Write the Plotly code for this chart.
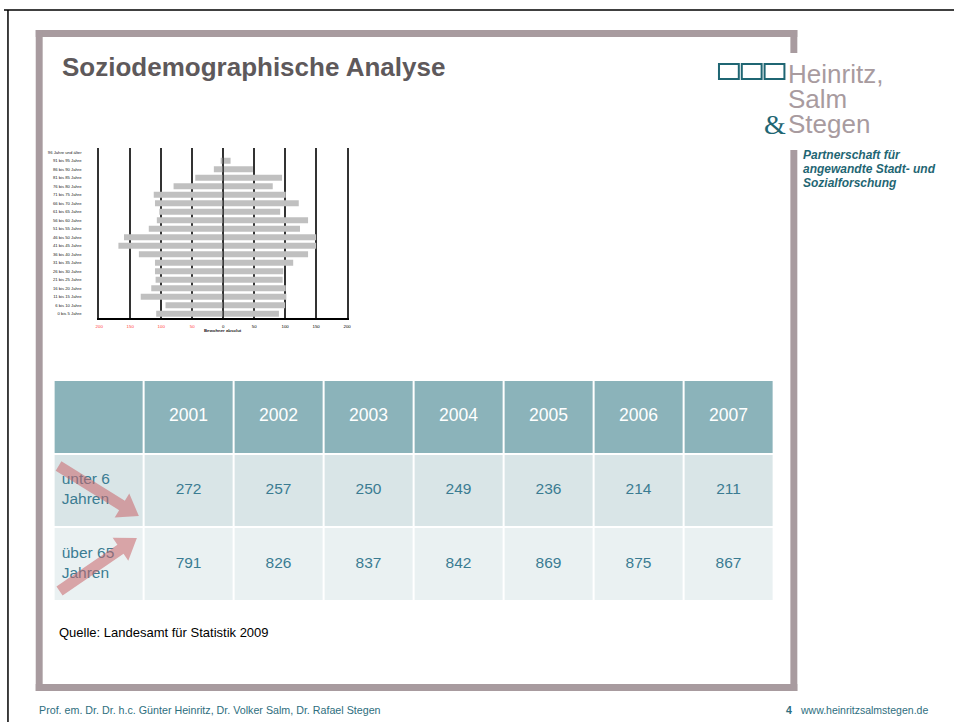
import plotly.graph_objects as go
import math

W, H = 958, 722

# ---------------- data ----------------
age_groups = ["0 bis 5 Jahre", "6 bis 10 Jahre", "11 bis 15 Jahre", "16 bis 20 Jahre",
              "21 bis 25 Jahre", "26 bis 30 Jahre", "31 bis 35 Jahre", "36 bis 40 Jahre",
              "41 bis 45 Jahre", "46 bis 50 Jahre", "51 bis 55 Jahre", "56 bis 60 Jahre",
              "61 bis 65 Jahre", "66 bis 70 Jahre", "71 bis 75 Jahre", "76 bis 80 Jahre",
              "81 bis 85 Jahre", "86 bis 90 Jahre", "91 bis 95 Jahre", "96 Jahre und älter"]
left_values = [108, 93, 133, 116, 109, 110, 110, 136, 169, 160,
               120, 107, 103, 110, 112, 80, 45, 15, 4, 0]
right_values = [90, 100, 102, 101, 96, 97, 113, 137, 150, 150,
                124, 137, 92, 122, 101, 80, 95, 48, 12, 0]
x_tick_values = [-200, -150, -100, -50, 0, 50, 100, 150, 200]
x_tick_labels = ["200", "150", "100", "50", "0", "50", "100", "150", "200"]

years = ["2001", "2002", "2003", "2004", "2005", "2006", "2007"]
under6 = [272, 257, 250, 249, 236, 214, 211]
over65 = [791, 826, 837, 842, 869, 875, 867]
row_labels = ["unter 6<br>Jahren", "über 65<br>Jahren"]

# ---------------- helpers ----------------
def px(x):
    return x / W

def py(y):
    return 1 - y / H

FONT = "Liberation Sans, Arial, sans-serif"
MAUVE = "#A89B9F"
TEAL = "#1F6673"

fig = go.Figure()

# ---------------- pyramid ----------------
fig.add_trace(go.Bar(y=age_groups, x=[-v for v in left_values], orientation="h",
                     marker=dict(color="#C0C0C0", line=dict(width=0)),
                     xaxis="x", yaxis="y", hoverinfo="skip", showlegend=False))
fig.add_trace(go.Bar(y=age_groups, x=right_values, orientation="h",
                     marker=dict(color="#C0C0C0", line=dict(width=0)),
                     xaxis="x", yaxis="y", hoverinfo="skip", showlegend=False))

tick_text = []
for v, t in zip(x_tick_values, x_tick_labels):
    if v < 0:
        tick_text.append('<span style="color:#FF3B3B">' + t + '</span>')
    else:
        tick_text.append(t)

# ---------------- table (heatmap cells) ----------------
n_cols = len(years) + 1
z = [[0] * n_cols, [1] * n_cols, [2] * n_cols]
fig.add_trace(go.Heatmap(z=z, x=list(range(n_cols)), y=[0, 1, 2],
                         colorscale=[[0, "#8BB3BA"], [0.5, "#D9E5E7"], [1, "#EAF1F2"]],
                         zmin=0, zmax=2, showscale=False, xgap=2, ygap=2,
                         hoverinfo="skip", xaxis="x2", yaxis="y2"))

fig.add_trace(go.Scatter(x=list(range(1, n_cols)), y=[0] * len(years), text=years,
                         mode="text", textfont=dict(family=FONT, size=17.5, color="white"),
                         xaxis="x2", yaxis="y2", hoverinfo="skip", showlegend=False))
fig.add_trace(go.Scatter(x=list(range(1, n_cols)), y=[1] * len(years),
                         text=[str(v) for v in under6],
                         mode="text", textfont=dict(family=FONT, size=15.5, color="#3B7C92"),
                         xaxis="x2", yaxis="y2", hoverinfo="skip", showlegend=False))
fig.add_trace(go.Scatter(x=list(range(1, n_cols)), y=[2] * len(years),
                         text=[str(v) for v in over65],
                         mode="text", textfont=dict(family=FONT, size=15.5, color="#3B7C92"),
                         xaxis="x2", yaxis="y2", hoverinfo="skip", showlegend=False))
fig.add_trace(go.Scatter(x=[-0.41, -0.41], y=[1, 2], text=row_labels,
                         mode="text", textposition="middle right",
                         textfont=dict(family=FONT, size=15.5, color="#3B7C92"),
                         xaxis="x2", yaxis="y2", hoverinfo="skip", showlegend=False))

# ---------------- shapes ----------------
shapes = []

def rect(x0, y0, x1, y1, color, line=None, layer="below"):
    d = dict(type="rect", xref="paper", yref="paper",
             x0=px(x0), x1=px(x1), y0=py(y1), y1=py(y0), layer=layer)
    if line:
        d["line"] = dict(color=line, width=2)
        d["fillcolor"] = "rgba(0,0,0,0)"
    else:
        d["line"] = dict(width=0)
        d["fillcolor"] = color
    shapes.append(d)

# outer black border lines
shapes.append(dict(type="line", xref="paper", yref="paper", x0=px(0), x1=px(958),
                   y0=py(10), y1=py(10), line=dict(color="black", width=1.5)))
shapes.append(dict(type="line", xref="paper", yref="paper", x0=px(4), x1=px(4),
                   y0=py(10), y1=py(722), line=dict(color="black", width=1.5)))

# mauve frame
rect(32, 30, 800, 37, MAUVE)
rect(32, 30, 39, 691, MAUVE)
rect(32, 684, 800, 691, MAUVE)
rect(793, 30, 800, 53, MAUVE)
rect(793, 150, 800, 691, MAUVE)

# logo squares
for sx in (721, 744, 767):
    rect(sx, 64, sx + 20, 79, None, line=TEAL, layer="above")

# zero line of pyramid on top
shapes.append(dict(type="line", xref="x", yref="paper", x0=0, x1=0,
                   y0=py(318), y1=py(148), line=dict(color="#333333", width=1.5), layer="above"))

def arrow(x0, y0, x1, y1, shw=5.5, hhw=14, hl=20):
    dx, dy = x1 - x0, y1 - y0
    L = math.hypot(dx, dy)
    ux, uy = dx / L, dy / L
    nx, ny = -uy, ux
    bx, by = x1 - ux * hl, y1 - uy * hl
    pts = [(x0 + nx * shw, y0 + ny * shw), (bx + nx * shw, by + ny * shw),
           (bx + nx * hhw, by + ny * hhw), (x1, y1),
           (bx - nx * hhw, by - ny * hhw), (bx - nx * shw, by - ny * shw),
           (x0 - nx * shw, y0 - ny * shw)]
    path = "M " + " L ".join(f"{px(a):.5f},{py(b):.5f}" for a, b in pts) + " Z"
    shapes.append(dict(type="path", xref="paper", yref="paper", path=path,
                       fillcolor="rgba(200,100,105,0.55)", line=dict(width=0), layer="above"))

arrow(55, 466, 136, 516)
arrow(56, 591, 134, 538)

# ---------------- annotations ----------------
ann = []

def text(x, y, s, size, color, xanchor="left", bold=False, italic=False, family=FONT, yanchor="middle"):
    if bold:
        s = "<b>" + s + "</b>"
    if italic:
        s = "<i>" + s + "</i>"
    ann.append(dict(x=px(x), y=py(y), xref="paper", yref="paper", text=s, showarrow=False,
                    xanchor=xanchor, yanchor=yanchor,
                    font=dict(family=family, size=size, color=color)))

text(56, 67, "Soziodemographische Analyse", 26, "#5E595B", bold=True)
text(789, 74, "Heinritz,", 26, "#A89B9F")
text(789, 99, "Salm", 26, "#A89B9F")
text(789, 124, "Stegen", 26, "#A89B9F")
text(791, 124, "&", 28, TEAL, xanchor="right", family="Liberation Serif, DejaVu Serif, serif")
text(804, 155, "Partnerschaft für", 12, TEAL, bold=True, italic=True)
text(804, 169, "angewandte Stadt- und", 12, TEAL, bold=True, italic=True)
text(804, 183, "Sozialforschung", 12, TEAL, bold=True, italic=True)
text(221, 330, "Bewohner absolut", 4.3, "#222222", xanchor="center", bold=True)
text(53, 632, "Quelle: Landesamt für Statistik 2009", 13, "black")
text(33, 710, "Prof. em. Dr. Dr. h.c. Günter Heinritz, Dr. Volker Salm, Dr. Rafael Stegen", 10.7, "#2E6E7E")
text(787, 710, "4", 10.5, "#2E6E7E", bold=True)
text(801, 710, "www.heinritzsalmstegen.de", 10.5, "#2E6E7E")

fig.update_layout(
    width=W, height=H, margin=dict(l=0, r=0, t=0, b=0),
    paper_bgcolor="white", plot_bgcolor="rgba(0,0,0,0)",
    barmode="relative", bargap=0.28,
    shapes=shapes, annotations=ann,
    xaxis=dict(domain=[px(96), px(346)], range=[-200, 200], tickvals=x_tick_values,
               ticktext=tick_text, showgrid=True, gridcolor="#333333", gridwidth=1.5,
               zeroline=False, showline=True, linecolor="black", linewidth=1.5,
               ticks="", tickfont=dict(family=FONT, size=4.4, color="black"),
               ticklabelstandoff=3, fixedrange=True),
    yaxis=dict(domain=[py(318), py(148)], type="category", range=[-0.5, 19.5],
               showgrid=False, zeroline=False, showline=True, mirror=True,
               linecolor="#333333", linewidth=1.5, ticks="",
               tickfont=dict(family=FONT, size=4.2, color="#222222"),
               ticklabelstandoff=15, fixedrange=True),
    xaxis2=dict(domain=[px(50), px(776)], range=[-0.5, n_cols - 0.5], visible=False,
                anchor="y2", fixedrange=True),
    yaxis2=dict(domain=[py(601), py(380)], range=[2.5, -0.5], visible=False,
                anchor="x2", fixedrange=True),
)

fig.write_html("out.html", config={"displayModeBar": False},
               post_script="document.body.style.margin='0px';document.body.style.overflow='hidden';")
